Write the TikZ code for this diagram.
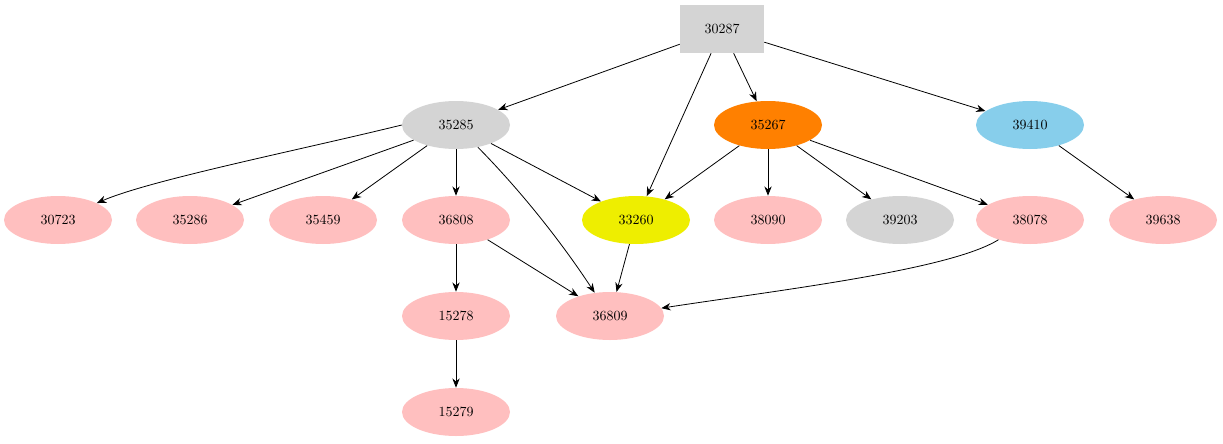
\documentclass[tikz,border=0pt]{standalone}
\usetikzlibrary{arrows.meta,shapes.geometric}
\begin{document}
\begin{tikzpicture}[x=0.75pt,y=-0.75pt,
  el/.style={ellipse,fill=pink,minimum width=81pt,minimum height=36pt,inner sep=0pt,font=\fontsize{10.5}{12}\selectfont},
  bx/.style={rectangle,fill=black!17,minimum width=63pt,minimum height=36pt,inner sep=0pt,font=\fontsize{10.5}{12}\selectfont},
  ar/.style={-{Stealth[length=7pt,width=5.5pt]},line width=0.6pt}]
\useasboundingbox (0,0) rectangle (1223,443);
\node[bx] (a) at (722,29) {30287};
\node[el,fill=black!17] (b) at (456,125) {35285};
\node[el,fill=orange] (c) at (768,125) {35267};
\node[el,fill=cyan!30!blue!20!white,fill={rgb,255:red,135;green,206;blue,235}] (d) at (1030,125) {39410};
\node[el] (n30723) at (58,220) {30723};
\node[el] (n35286) at (190,220) {35286};
\node[el] (n35459) at (323,220) {35459};
\node[el] (n36808) at (456,220) {36808};
\node[el,fill={rgb,255:red,238;green,238;blue,0}] (n33260) at (636,220) {33260};
\node[el] (n38090) at (768,220) {38090};
\node[el,fill=black!17] (n39203) at (900,220) {39203};
\node[el] (n38078) at (1030,220) {38078};
\node[el] (n39638) at (1163,220) {39638};
\node[el] (n15278) at (456,316) {15278};
\node[el] (n36809) at (610,316) {36809};
\node[el] (n15279) at (456,412) {15279};
\draw[ar] (a) -- (b);
\draw[ar] (a) -- (n33260);
\draw[ar] (a) -- (c);
\draw[ar] (a) -- (d);
\draw[ar] (b.west) .. controls (300,150) and (150,180) .. (n30723);
\draw[ar] (b) -- (n35286);
\draw[ar] (b) -- (n35459);
\draw[ar] (b) -- (n36808);
\draw[ar] (b) -- (n33260);
\draw[ar] (b) .. controls (520,190) and (560,240) .. (n36809);
\draw[ar] (c) -- (n33260);
\draw[ar] (c) -- (n38090);
\draw[ar] (c) -- (n39203);
\draw[ar] (c) -- (n38078);
\draw[ar] (d) -- (n39638);
\draw[ar] (n36808) -- (n15278);
\draw[ar] (n36808) -- (n36809);
\draw[ar] (n33260) -- (n36809);
\draw[ar] (n38078) .. controls (950,270) and (780,290) .. (n36809);
\draw[ar] (n15278) -- (n15279);
\end{tikzpicture}
\end{document}
